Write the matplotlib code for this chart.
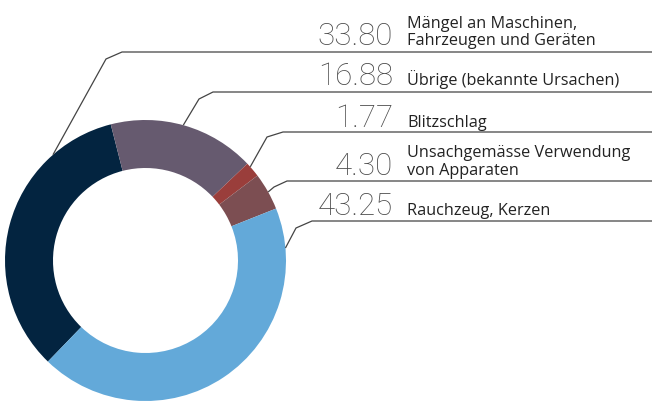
import matplotlib
matplotlib.use("Agg")
import matplotlib.pyplot as plt
import numpy as np

# ---- data ----
categories = [
    ["Mängel an Maschinen,", "Fahrzeugen und Geräten"],
    ["Übrige (bekannte Ursachen)"],
    ["Blitzschlag"],
    ["Unsachgemässe Verwendung", "von Apparaten"],
    ["Rauchzeug, Kerzen"],
]
values = [33.80, 16.88, 1.77, 4.30, 43.25]
value_labels = ["33.80", "16.88", "1.77", "4.30", "43.25"]

# ---- style / layout (pixel space, image coordinates: y downwards) ----
colors = ["#032440", "#665A6F", "#9A3E3B", "#7C4E52", "#63A9D9"]
W, H = 655, 401
cx, cy = 145.5, 260.5
R_out, R_in = 140.5, 92.5
anchor_angles = [131.2, 74.4, 41.8, 29.2, 5.1]
elbows = [(106, 59), (199, 99), (267, 137), (274, 187), (296, 228)]
line_starts = [(122, 52), (213, 92), (283, 132), (287, 181), (312, 221)]
line_end_x = 652
baselines = [[28, 45], [85], [127], [157, 175], [215]]
num_x, txt_x = 393, 407
line_color = "#444444"

fig = plt.figure(figsize=(W / 100, H / 100), dpi=100)
ax = fig.add_axes([0, 0, 1, 1])

ax.pie(values, colors=colors, startangle=226, counterclock=False,
       radius=R_out, center=(cx, H - cy),
       wedgeprops=dict(width=R_out - R_in, linewidth=0))
ax.set_xlim(0, W)
ax.set_ylim(0, H)
ax.set_aspect("equal")
ax.axis("off")

for i in range(len(values)):
    a = np.deg2rad(anchor_angles[i])
    px = cx + R_out * np.cos(a)
    py = (H - cy) + R_out * np.sin(a)
    ex, ey = elbows[i]
    sx, sy = line_starts[i]
    ax.plot([px, ex, sx, line_end_x], [py, H - ey, H - sy, H - sy],
            color=line_color, lw=0.9, solid_capstyle="butt", zorder=3)
    ax.text(num_x, H - baselines[i][-1], value_labels[i], ha="right", va="baseline",
            fontsize=22.5, family=["Roboto", "DejaVu Sans"], fontweight="light",
            color="#4a4a4a")
    for line, b in zip(categories[i], baselines[i]):
        ax.text(txt_x, H - b, line, ha="left", va="baseline",
                fontsize=11.7, family=["Open Sans", "DejaVu Sans"], color="#222222")

fig.savefig("out.png", dpi=100)
